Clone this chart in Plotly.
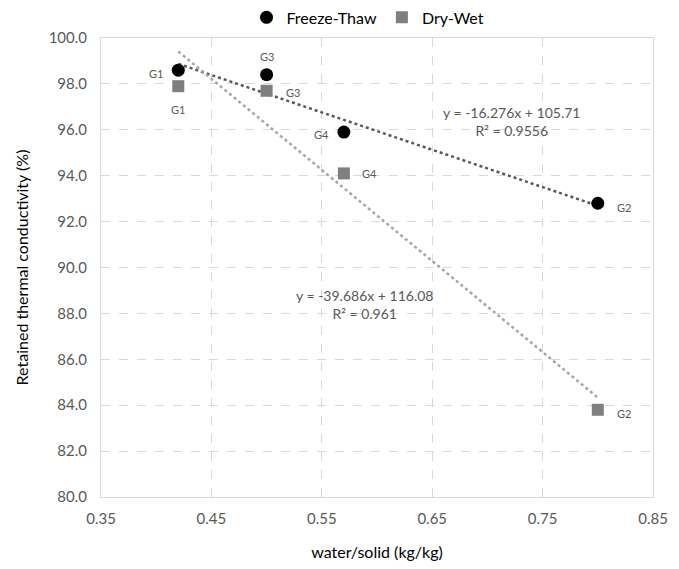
import plotly.graph_objects as go

groups = ["G1", "G3", "G4", "G2"]
water_solid = [0.42, 0.50, 0.57, 0.80]
freeze_thaw = [98.6, 98.4, 95.9, 92.8]
dry_wet = [97.9, 97.7, 94.1, 83.8]

ft_slope, ft_intercept, ft_r2 = -16.276, 105.71, 0.9556
dw_slope, dw_intercept, dw_r2 = -39.686, 116.08, 0.961

x_ticks = [0.35, 0.45, 0.55, 0.65, 0.75, 0.85]
y_ticks = [80, 82, 84, 86, 88, 90, 92, 94, 96, 98, 100]

FONT = "Lato, 'Open Sans', sans-serif"
GREY_TXT = "#595959"

fig = go.Figure()

xr = [min(water_solid), max(water_solid)]
fig.add_trace(go.Scatter(x=xr, y=[ft_slope * v + ft_intercept for v in xr], mode="lines",
                         line=dict(color="#595959", width=2.5, dash="dot"), showlegend=False, hoverinfo="skip"))
fig.add_trace(go.Scatter(x=xr, y=[dw_slope * v + dw_intercept for v in xr], mode="lines",
                         line=dict(color="#a6a6a6", width=2.5, dash="dot"), showlegend=False, hoverinfo="skip"))

fig.add_trace(go.Scatter(x=water_solid, y=freeze_thaw, mode="markers", name="Freeze-Thaw",
                         marker=dict(symbol="circle", size=13, color="black")))
fig.add_trace(go.Scatter(x=water_solid, y=dry_wet, mode="markers", name="Dry-Wet",
                         marker=dict(symbol="square", size=12, color="#7f7f7f")))

# point labels (offsets in pixels)
ft_off = {"G1": (-22, -3), "G3": (0, 18), "G4": (-22, -2), "G2": (26, -4)}
dw_off = {"G1": (0, -23), "G3": (26, -2), "G4": (26, 0), "G2": (26, -4)}
for g, x, y in zip(groups, water_solid, freeze_thaw):
    dx, dy = ft_off[g]
    fig.add_annotation(x=x, y=y, text=g, showarrow=False, xshift=dx, yshift=dy,
                       font=dict(size=11, color=GREY_TXT, family=FONT))
for g, x, y in zip(groups, water_solid, dry_wet):
    dx, dy = dw_off[g]
    fig.add_annotation(x=x, y=y, text=g, showarrow=False, xshift=dx, yshift=dy,
                       font=dict(size=11, color=GREY_TXT, family=FONT))

fig.add_annotation(x=0.722, y=96.36, showarrow=False, align="center",
                   text=f"y = {ft_slope}x + {ft_intercept}<br>R² = {ft_r2}",
                   font=dict(size=14, color=GREY_TXT, family=FONT))
fig.add_annotation(x=0.589, y=88.39, showarrow=False, align="center",
                   text=f"y = {dw_slope}x + {dw_intercept}<br>R² = {dw_r2}",
                   font=dict(size=14, color=GREY_TXT, family=FONT))

fig.update_layout(
    width=663, height=553,
    margin=dict(l=93, r=18, t=30, b=64, autoexpand=False),
    paper_bgcolor="white", plot_bgcolor="white",
    font=dict(family=FONT, color=GREY_TXT, size=15),
    legend=dict(orientation="h", xref="container", x=0.543, xanchor="center",
                yref="container", y=0.983, yanchor="middle",
                font=dict(size=16, color="black", family=FONT), itemwidth=30,
                bgcolor="rgba(0,0,0,0)"),
    xaxis=dict(range=[0.35, 0.85], tickvals=x_ticks, ticktext=[f"{v:.2f}" for v in x_ticks],
               showgrid=True, gridcolor="#d9d9d9", griddash="dash", zeroline=False, automargin=False,
               showline=True, linecolor="#d9d9d9", linewidth=1, mirror=True, ticks="",
               ticklabelstandoff=8,
               tickfont=dict(size=15, color=GREY_TXT),
               title=dict(text="water/solid (kg/kg)", font=dict(size=16, color="black"), standoff=22)),
    yaxis=dict(range=[80, 100], tickvals=y_ticks, ticktext=[f"{v:.1f}" for v in y_ticks],
               showgrid=True, gridcolor="#d9d9d9", griddash="dash", zeroline=False, automargin=False,
               showline=True, linecolor="#d9d9d9", linewidth=1, mirror=True, ticks="",
               ticklabelstandoff=10,
               tickfont=dict(size=15, color=GREY_TXT),
               title=dict(text="Retained thermal conductivity (%)", font=dict(size=16, color="black"), standoff=16)),
)

fig.write_html("out.html")
